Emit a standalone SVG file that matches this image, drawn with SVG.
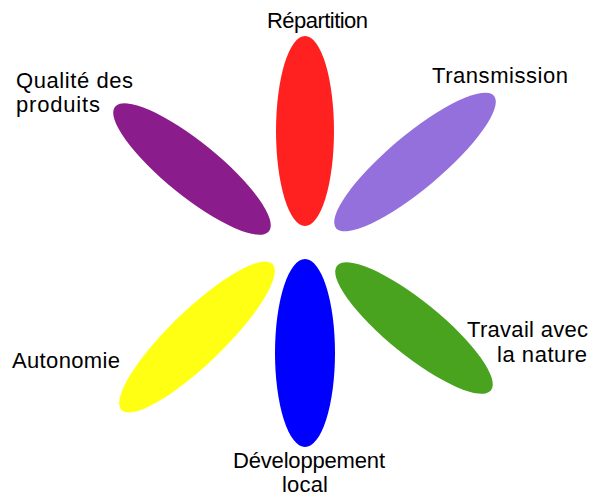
<svg xmlns="http://www.w3.org/2000/svg" width="592" height="502" viewBox="0 0 592 502">
<style>
text { font-family: "Liberation Sans", Arial, sans-serif; font-size: 22px; fill: #000; }
</style>
<rect width="592" height="502" fill="#fff"/>
<g id="repartition">
<ellipse cx="305" cy="131" rx="29" ry="95" fill="#FF2020"/>
<text x="317.5" y="28" text-anchor="middle" textLength="101">Répartition</text>
</g>
<g id="transmission">
<ellipse cx="0" cy="0" rx="103" ry="27" fill="#9370DB" transform="translate(415,162) rotate(-40)"/>
<text x="432" y="83" textLength="136">Transmission</text>
</g>
<g id="qualite">
<ellipse cx="0" cy="0" rx="99" ry="27" fill="#8B1C8B" transform="translate(192,169) rotate(39)"/>
<text x="16" y="88" textLength="117">Qualité des</text>
<text x="16" y="112" textLength="84">produits</text>
</g>
<g id="autonomie">
<ellipse cx="0" cy="0" rx="105" ry="27" fill="#FFFF14" transform="translate(197,337) rotate(-44)"/>
<text x="12" y="368" textLength="108">Autonomie</text>
</g>
<g id="developpement">
<ellipse cx="305" cy="353" rx="30" ry="94" fill="#0000FF"/>
<text x="309" y="468" text-anchor="middle" textLength="152">Développement</text>
<text x="305" y="492" text-anchor="middle" textLength="46">local</text>
</g>
<g id="travail">
<ellipse cx="0" cy="0" rx="99" ry="27" fill="#4AA31E" transform="translate(414,328) rotate(39)"/>
<text x="588" y="337" text-anchor="end" textLength="121">Travail avec</text>
<text x="587" y="362" text-anchor="end" textLength="90">la nature</text>
</g>
<g id="connectors"></g>
</svg>
